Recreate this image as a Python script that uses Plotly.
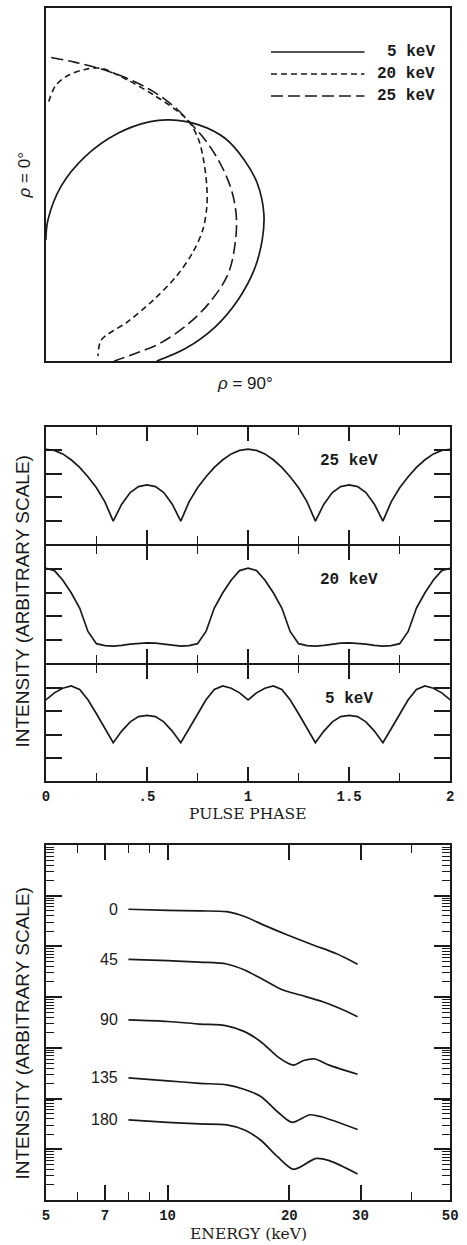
import math
import plotly.graph_objects as go

W, H = 467, 1245


def px(x):
    return x / W


def py(y):
    return 1 - y / H


INK = "#1a1a1a"

# ---------------- Panel 1: beam shapes (normalized box coordinates) ----------------
beam_5keV_x = [0.0, 0.005, 0.037, 0.097, 0.178, 0.258, 0.306, 0.378, 0.443, 0.491, 0.523,
               0.539, 0.535, 0.515, 0.475, 0.419, 0.346, 0.274]
beam_5keV_y = [0.343, 0.399, 0.494, 0.579, 0.645, 0.678, 0.683, 0.669, 0.631, 0.569, 0.503,
               0.418, 0.343, 0.258, 0.173, 0.097, 0.036, 0.0]

beam_20keV_x = [0.007, 0.025, 0.057, 0.097, 0.137, 0.202, 0.266, 0.322, 0.354, 0.378, 0.390,
                0.398, 0.398, 0.388, 0.362, 0.322, 0.266, 0.202, 0.137, 0.129]
beam_20keV_y = [0.735, 0.782, 0.810, 0.826, 0.829, 0.796, 0.754, 0.711, 0.678, 0.626, 0.569,
                0.494, 0.437, 0.371, 0.305, 0.239, 0.173, 0.111, 0.059, 0.014]

beam_25keV_x = [0.013, 0.073, 0.137, 0.202, 0.266, 0.322, 0.354, 0.394, 0.431, 0.459, 0.471,
                0.468, 0.451, 0.410, 0.354, 0.282, 0.218, 0.169]
beam_25keV_y = [0.860, 0.846, 0.827, 0.800, 0.763, 0.716, 0.678, 0.626, 0.560, 0.484, 0.409,
                0.333, 0.248, 0.173, 0.107, 0.050, 0.020, 0.0]

legend_labels = ["5 keV", "20 keV", "25 keV"]

# ---------------- Panel 2: pulse profiles ----------------
phase = [0, .042, .083, .125, .167, .208, .25, .292, .333, .375, .417, .458, .5,
         .542, .583, .625, .667, .708, .75, .792, .833, .875, .917, .958, 1,
         1.042, 1.083, 1.125, 1.167, 1.208, 1.25, 1.292, 1.333, 1.375, 1.417, 1.458, 1.5,
         1.542, 1.583, 1.625, 1.667, 1.708, 1.75, 1.792, 1.833, 1.875, 1.917, 1.958, 2]

prof_25keV = [0.81, 0.80, 0.77, 0.72, 0.655, 0.575, 0.48, 0.36, 0.195, 0.34, 0.44, 0.49, 0.505,
              0.49, 0.44, 0.34, 0.195, 0.36, 0.48, 0.575, 0.655, 0.72, 0.77, 0.80, 0.81,
              0.80, 0.77, 0.72, 0.655, 0.575, 0.48, 0.36, 0.195, 0.34, 0.44, 0.49, 0.505,
              0.49, 0.44, 0.34, 0.195, 0.36, 0.48, 0.575, 0.655, 0.72, 0.77, 0.80, 0.81]

prof_20keV = [0.81, 0.79, 0.71, 0.60, 0.47, 0.27, 0.165, 0.148, 0.145, 0.15, 0.162, 0.17, 0.172,
              0.17, 0.162, 0.15, 0.145, 0.148, 0.165, 0.27, 0.47, 0.60, 0.71, 0.79, 0.81,
              0.79, 0.71, 0.60, 0.47, 0.27, 0.165, 0.148, 0.145, 0.15, 0.162, 0.17, 0.172,
              0.17, 0.162, 0.15, 0.145, 0.148, 0.165, 0.27, 0.47, 0.60, 0.71, 0.79, 0.81]

prof_5keV = [0.70, 0.76, 0.80, 0.82, 0.79, 0.70, 0.58, 0.45, 0.33, 0.43, 0.51, 0.555, 0.565,
             0.555, 0.51, 0.43, 0.33, 0.45, 0.58, 0.70, 0.79, 0.82, 0.80, 0.76, 0.70,
             0.76, 0.80, 0.82, 0.79, 0.70, 0.58, 0.45, 0.33, 0.43, 0.51, 0.555, 0.565,
             0.555, 0.51, 0.43, 0.33, 0.45, 0.58, 0.70, 0.79, 0.82, 0.80, 0.76, 0.70]

phase_ticks = [0, 0.5, 1, 1.5, 2]
phase_ticktext = ["0", ".5", "1", "1.5", "2"]

# ---------------- Panel 3: spectra ----------------
angles = ["0", "45", "90", "135", "180"]

E_0 = [8, 10, 12, 14, 15.5, 17.3, 19.8, 22.9, 26.1, 29.5]
I_0 = [5.41e5, 5.13e5, 5.01e5, 4.85e5, 3.89e5, 2.63e5, 1.68e5, 1.07e5, 7.24e4, 4.47e4]

E_45 = [8, 10, 12, 14, 15.5, 17.3, 19.3, 21.3, 24.2, 26.6, 29.5]
I_45 = [5.57e4, 5.25e4, 4.90e4, 4.51e4, 3.43e4, 2.18e4, 1.38e4, 1.10e4, 8.13e3, 6.03e3, 4.12e3]

E_90 = [8, 10, 12, 14, 15.5, 17.0, 18.7, 19.8, 20.5, 21.7, 23.1, 25.1, 29.5]
I_90 = [3.55e3, 3.31e3, 2.95e3, 2.72e3, 2.09e3, 1.32e3, 670, 501, 457, 562, 603, 457, 302]

E_135 = [8, 10, 12, 14, 15.5, 17.0, 18.7, 20.3, 22.5, 24.0, 29.5]
I_135 = [257, 224, 200, 186, 151, 110, 55.0, 33.9, 47.9, 43.7, 24.5]

E_180 = [8, 10, 12, 14, 15.5, 17.0, 18.7, 20.5, 23.3, 25.1, 29.5]
I_180 = [38.0, 33.9, 31.6, 30.2, 24.0, 15.1, 7.14, 4.03, 6.61, 5.96, 3.26]

spectra = [(E_0, I_0), (E_45, I_45), (E_90, I_90), (E_135, I_135), (E_180, I_180)]

energy_ticks = [5, 7, 10, 20, 30, 50]
energy_minor = [6, 8, 9, 40]

# ---------------- figure ----------------
fig = go.Figure()
line = dict(color=INK, width=1.7)

fig.add_trace(go.Scatter(x=beam_5keV_x, y=beam_5keV_y, mode="lines", xaxis="x", yaxis="y",
                         line=dict(color=INK, width=1.7, shape="spline", smoothing=1.0)))
fig.add_trace(go.Scatter(x=beam_20keV_x, y=beam_20keV_y, mode="lines", xaxis="x", yaxis="y",
                         line=dict(color=INK, width=1.6, shape="spline", smoothing=0.9,
                                   dash="6px,4px")))
fig.add_trace(go.Scatter(x=beam_25keV_x, y=beam_25keV_y, mode="lines", xaxis="x", yaxis="y",
                         line=dict(color=INK, width=1.6, shape="spline", smoothing=1.0,
                                   dash="12px,5px")))

for prof, ax in [(prof_25keV, "2"), (prof_20keV, "3"), (prof_5keV, "4")]:
    fig.add_trace(go.Scatter(x=phase, y=prof, mode="lines", xaxis="x" + ax, yaxis="y" + ax,
                             line=line))

for E, I in spectra:
    fig.add_trace(go.Scatter(x=E, y=I, mode="lines", xaxis="x5", yaxis="y5",
                             line=dict(color=INK, width=1.7, shape="spline", smoothing=0.8)))

XDOM = [px(43), px(458)]
LW = 2
base = dict(showline=True, linecolor=INK, linewidth=LW, showgrid=False,
            zeroline=False, fixedrange=True)

layout = dict(
    width=W, height=H, margin=dict(l=0, r=0, t=0, b=0),
    paper_bgcolor="white", plot_bgcolor="white", showlegend=False,
    font=dict(family="Liberation Sans", color=INK),
)

# panel 1
layout["xaxis"] = dict(domain=XDOM, range=[0, 1], anchor="y", ticks="", showticklabels=False,
                       mirror=True, **base)
layout["yaxis"] = dict(domain=[py(361), py(8)], range=[0, 1], anchor="x", ticks="",
                       showticklabels=False, mirror=True, **base)

# panel 2 (sub-panels share their border lines)
sub = [("2", 427, 544), ("3", 546, 663), ("4", 665, 781)]
for ax, top, bot in sub:
    last = ax == "4"
    layout["xaxis" + ax] = dict(
        domain=XDOM, range=[0, 2], anchor="y" + ax,
        tickvals=phase_ticks, ticktext=phase_ticktext, showticklabels=last,
        ticks="inside", ticklen=14, tickwidth=1.5, tickcolor=INK,
        minor=dict(dtick=0.25, ticks="inside", ticklen=8, tickwidth=1.3, tickcolor=INK),
        tickfont=dict(family="Liberation Mono", size=14, weight=700, color=INK),
        ticklabelstandoff=1, mirror="ticks",
        **base)
    layout["yaxis" + ax] = dict(
        domain=[py(bot), py(top)], range=[0, 1], anchor="x" + ax,
        tickvals=[0.2, 0.4, 0.6, 0.8], showticklabels=False,
        ticks="inside", ticklen=16, tickwidth=1.5, tickcolor=INK, mirror="ticks",
        **base)

# panel 3
layout["xaxis5"] = dict(
    domain=XDOM, type="log", range=[0.69897, 1.69897], anchor="y5",
    tickvals=energy_ticks, ticktext=[str(v) for v in energy_ticks],
    ticks="inside", ticklen=15, tickwidth=1.5, tickcolor=INK,
    minor=dict(tickvals=energy_minor, ticks="inside", ticklen=8, tickwidth=1.3, tickcolor=INK),
    tickfont=dict(family="Liberation Mono", size=14, weight=700, color=INK),
    ticklabelstandoff=1, mirror="ticks",
    **base)
layout["yaxis5"] = dict(
    domain=[py(1200), py(845)], type="log", range=[0, 7], anchor="x5",
    dtick=1, showticklabels=False,
    ticks="inside", ticklen=16, tickwidth=1.5, tickcolor=INK,
    minor=dict(dtick="D1", ticks="inside", ticklen=8, tickwidth=1.2, tickcolor=INK),
    mirror="ticks",
    **base)

ann = []
sans = dict(family="Liberation Sans", color=INK)
mono = dict(family="Liberation Mono", color=INK, weight=700)
serif = dict(family="DejaVu Serif", color=INK)


def note(x, y, text, font, angle=0, xanchor="center"):
    return dict(xref="paper", yref="paper", x=px(x), y=py(y), text=text, textangle=angle,
                xanchor=xanchor, yanchor="middle", showarrow=False, font=font)


ann.append(note(22, 175, "<i>ρ</i> = 0°", dict(size=17, **sans), angle=-90))
ann.append(note(247, 383, "<i>ρ</i> = 90°", dict(size=17, **sans)))

shapes = []
leg_dash = ["solid", "6px,4px", "12px,5px"]
for i, (lab, yy) in enumerate(zip(legend_labels, [52, 74, 96])):
    shapes.append(dict(type="line", xref="paper", yref="paper", x0=px(274), x1=px(370),
                       y0=py(yy), y1=py(yy), line=dict(color=INK, width=1.6, dash=leg_dash[i])))
    ann.append(note(444, yy, lab, dict(size=16, **mono), xanchor="right"))

for ax, lab in [("2", "25 keV"), ("3", "20 keV"), ("4", "5 keV")]:
    ann.append(dict(xref="x" + ax, yref="y" + ax, x=1.5, y=0.71, text=lab, showarrow=False,
                    xanchor="center", yanchor="middle", font=dict(size=16, **mono)))

for yc in [602, 1034]:
    ann.append(note(18, yc, "INTENSITY (ARBITRARY SCALE)", dict(size=19, **sans), angle=-90))

ann.append(note(250, 814, "PULSE PHASE", dict(size=15.5, **serif)))
ann.append(note(251, 1234, "ENERGY (keV)", dict(size=15.5, **serif)))

for lab, (E, I) in zip(angles, spectra):
    ann.append(dict(xref="x5", yref="y5", x=math.log10(7.62), y=math.log10(I[0]), text=lab,
                    xanchor="right", yanchor="middle", showarrow=False,
                    font=dict(size=16, **sans)))

layout["annotations"] = ann
layout["shapes"] = shapes
fig.update_layout(**layout)

fig.write_html("out.html")
